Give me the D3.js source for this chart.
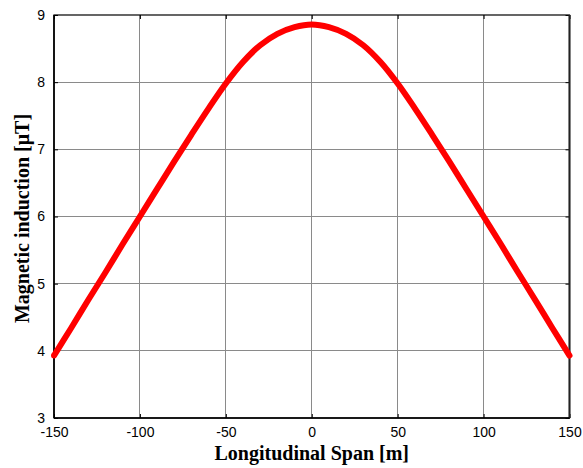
<!DOCTYPE html>
<html>
<head>
<meta charset="utf-8">
<script src="https://cdn.jsdelivr.net/npm/d3@7"></script>
<style>
  html, body { margin: 0; padding: 0; background: #fff; }
  svg { display: block; }
</style>
</head>
<body>
<script>
// Longitudinal position along the span [m]
const spanPositions = [-150, -140, -130, -120, -110, -100, -90, -80, -70, -60, -50, -40, -30, -20, -10,
  0, 10, 20, 30, 40, 50, 60, 70, 80, 90, 100, 110, 120, 130, 140, 150];
// Magnetic induction [µT]
const inductionValues = [3.93, 4.34, 4.76, 5.17, 5.59, 6.00, 6.41, 6.82, 7.22, 7.61, 7.98, 8.30, 8.55, 8.72, 8.82,
  8.86, 8.82, 8.72, 8.55, 8.30, 7.98, 7.61, 7.22, 6.82, 6.41, 6.00, 5.59, 5.17, 4.76, 4.34, 3.93];
const xTicks = [-150, -100, -50, 0, 50, 100, 150];
const yTicks = [3, 4, 5, 6, 7, 8, 9];
const xLabel = "Longitudinal Span [m]";
const yLabel = "Magnetic induction [\u03BCT]";

const W = 583, H = 468;
const m = { left: 54, right: 13.5, top: 15, bottom: 50 };
const pw = W - m.left - m.right, ph = H - m.top - m.bottom;

const svg = d3.select("body").append("svg").attr("width", W).attr("height", H);
const g = svg.append("g").attr("transform", `translate(${m.left},${m.top})`);

const x = d3.scaleLinear().domain([-150, 150]).range([0, pw]);
const y = d3.scaleLinear().domain([3, 9]).range([ph, 0]);
const fmt = d => String(d);

// grid
g.append("g").selectAll("line").data(xTicks.slice(1, -1)).join("line")
  .attr("x1", d => x(d)).attr("x2", d => x(d)).attr("y1", 0).attr("y2", ph)
  .attr("stroke", "#8a8a8a").attr("stroke-width", 1).attr("shape-rendering", "crispEdges");
g.append("g").selectAll("line").data(yTicks.slice(1, -1)).join("line")
  .attr("y1", d => y(d)).attr("y2", d => y(d)).attr("x1", 0).attr("x2", pw)
  .attr("stroke", "#8a8a8a").attr("stroke-width", 1).attr("shape-rendering", "crispEdges");

// axes with inward ticks
const fontTick = "'Liberation Sans', Arial, sans-serif";
const xAxis = g.append("g").attr("transform", `translate(0,${ph})`)
  .call(d3.axisBottom(x).tickValues(xTicks).tickFormat(fmt).tickSize(-4).tickPadding(12).tickSizeOuter(0));
const yAxis = g.append("g")
  .call(d3.axisLeft(y).tickValues(yTicks).tickFormat(fmt).tickSize(-4).tickPadding(9).tickSizeOuter(0));
const xAxisTop = g.append("g")
  .call(d3.axisTop(x).tickValues(xTicks).tickSize(-4).tickFormat("").tickSizeOuter(0));
const yAxisRight = g.append("g").attr("transform", `translate(${pw},0)`)
  .call(d3.axisRight(y).tickValues(yTicks).tickSize(-4).tickFormat("").tickSizeOuter(0));
[xAxis, yAxis, xAxisTop, yAxisRight].forEach(a => {
  a.select(".domain").remove();
  a.selectAll(".tick line").attr("stroke", "#000");
  a.selectAll("text").attr("font-family", fontTick).attr("font-size", 14).attr("fill", "#000");
});
xAxis.selectAll("text").attr("dy", "0.5em");

// box
g.append("rect").attr("x", 0).attr("y", 0).attr("width", pw).attr("height", ph)
  .attr("fill", "none").attr("stroke", "#000").attr("stroke-width", 1.2);
g.append("line").attr("x1", pw).attr("x2", pw).attr("y1", 0).attr("y2", ph)
  .attr("stroke", "#222").attr("stroke-width", 2);
g.append("line").attr("x1", 0).attr("x2", pw).attr("y1", ph).attr("y2", ph)
  .attr("stroke", "#000").attr("stroke-width", 1.6);
g.append("line").attr("x1", 0).attr("x2", 0).attr("y1", 0).attr("y2", ph)
  .attr("stroke", "#000").attr("stroke-width", 1.6);

// curve
const pts = spanPositions.map((s, i) => [s, inductionValues[i]]);
g.append("path").datum(pts)
  .attr("fill", "none").attr("stroke", "#ff0000").attr("stroke-width", 6)
  .attr("stroke-linecap", "round").attr("stroke-linejoin", "round")
  .attr("d", d3.line().x(d => x(d[0])).y(d => y(d[1])).curve(d3.curveCatmullRom));

// axis labels
const fontLabel = "'Liberation Serif', 'Times New Roman', serif";
svg.append("text").attr("x", m.left + pw / 2).attr("y", 460)
  .attr("text-anchor", "middle").attr("font-family", fontLabel).attr("font-weight", "bold")
  .attr("font-size", 20).text(xLabel);
svg.append("text").attr("transform", `translate(29,${m.top + ph / 2 + 2}) rotate(-90)`)
  .attr("text-anchor", "middle").attr("font-family", fontLabel).attr("font-weight", "bold")
  .attr("font-size", 20).text(yLabel);
</script>
</body>
</html>
